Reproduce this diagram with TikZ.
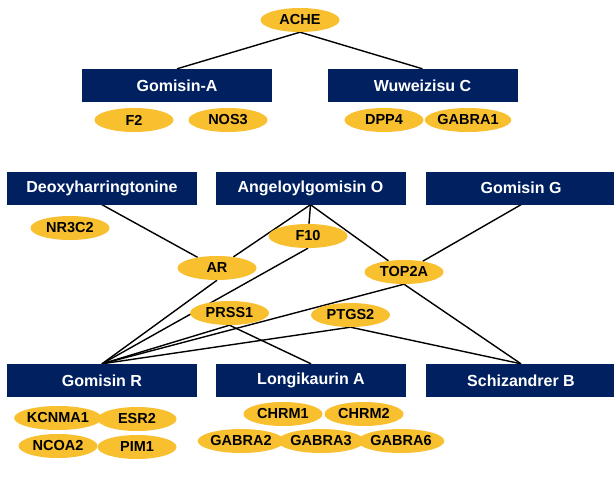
\documentclass[tikz,border=0pt]{standalone}
\usepackage{fontspec}
\setmainfont{Liberation Sans}
\usepackage{tikz}
\usetikzlibrary{shapes.geometric}
\usetikzlibrary{backgrounds}
\definecolor{navy}{HTML}{002060}
\definecolor{gold}{HTML}{F8BF2E}

\begin{document}
\begin{tikzpicture}[x=1pt,y=-1pt]
	\tikzstyle{CompoundStyle} = [rectangle, fill=navy, text=white, minimum width=190pt, minimum height=33pt, inner sep=0pt, font=\fontsize{16}{18}\selectfont\bfseries]
	\tikzstyle{TargetStyle}   = [ellipse, fill=gold, minimum width=79pt, minimum height=24pt, inner sep=0pt, font=\fontsize{14.5}{16}\selectfont\bfseries]
	\tikzstyle{EdgeStyle}     = [line width=1.4pt]
	%\draw[help lines] (0,0) grid (614,483);
	\useasboundingbox (0,0) rectangle (614,483);

	% compounds
	\node[CompoundStyle] (gomA) at (177,85.5) {Gomisin-A};
	\node[CompoundStyle] (wuwei) at (422.5,85.5) {Wuweizisu C};
	\node[CompoundStyle] (deoxy) at (102,188) {Deoxyharringtonine};
	\node[CompoundStyle] (ang) at (310.5,188) {Angeloylgomisin O};
	\node[CompoundStyle] (gomG) at (521,188) {Gomisin G};
	\node[CompoundStyle] (gomR) at (102,380.5) {Gomisin R};
	\node[CompoundStyle] (longi) at (311,380.5) {Longikaurin A};
	\node[CompoundStyle] (schiz) at (521,380.5) {Schizandrer B};

	% targets
	\node[TargetStyle] (ache) at (300,20) {ACHE};
	\node[TargetStyle] (f2) at (134,120) {F2}; \node[TargetStyle] (nos3) at (228,120) {NOS3};
	\node[TargetStyle] (dpp4) at (384,120) {DPP4}; \node[TargetStyle] (gabra1) at (468,120) {GABRA1};
	\node[TargetStyle] (nr3c2) at (70,228) {NR3C2};
	\node[TargetStyle] (ar) at (217,268) {AR}; \node[TargetStyle] (f10) at (308,236) {F10};
	\node[TargetStyle] (top2a) at (404,272) {TOP2A};
	\node[TargetStyle] (prss1) at (229.5,313) {PRSS1}; \node[TargetStyle] (ptgs2) at (350.5,315) {PTGS2};
	\node[TargetStyle] (kcnma1) at (58,418) {KCNMA1}; \node[TargetStyle] (esr2) at (137,419) {ESR2};
	\node[TargetStyle] (ncoa2) at (58,446) {NCOA2}; \node[TargetStyle] (pim1) at (137,447) {PIM1};
	\node[TargetStyle] (chrm1) at (283,414) {CHRM1}; \node[TargetStyle] (chrm2) at (364,414) {CHRM2};
	\node[TargetStyle] (gabra2) at (241,441) {GABRA2}; \node[TargetStyle] (gabra3) at (321,441) {GABRA3};
	\node[TargetStyle] (gabra6) at (401,441) {GABRA6};

	\begin{scope}[on background layer]
		\draw[EdgeStyle] (gomA.north) -- (ache.south) -- (wuwei.north);
		\draw[EdgeStyle] (deoxy.south) -- (ar);
		\foreach \t in {ar,f10,top2a} \draw[EdgeStyle] (ang.south) -- (\t);
		\draw[EdgeStyle] (gomG.south) -- (top2a);
		\foreach \t in {ar,f10,prss1,top2a,ptgs2} \draw[EdgeStyle] (\t.south) -- (gomR.north);
		\draw[EdgeStyle] (prss1.south) -- (longi.north);
		\draw[EdgeStyle] (top2a.south) -- (schiz.north);
		\draw[EdgeStyle] (ptgs2.south) -- (schiz.north);
	\end{scope}
\end{tikzpicture}
\end{document}
